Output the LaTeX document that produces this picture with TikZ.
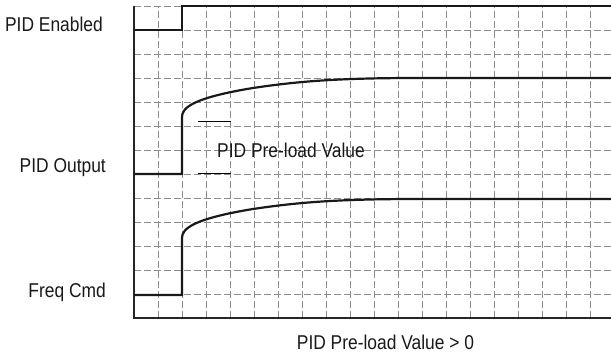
\documentclass[tikz,border=0pt]{standalone}
\usepackage{fontspec}
\setmainfont[FakeStretch=0.87]{Liberation Sans}
\usepackage{tikz}
\usetikzlibrary{positioning}

\begin{document}
\begin{tikzpicture}[
  x=1pt, y=1pt,
  every node/.style={font=\fontsize{20}{24}\selectfont, inner sep=0pt, text=black!90},
  gridline/.style={black!45, line width=0.9pt, dash pattern=on 7pt off 3pt},
  frame/.style={black!85, line width=1.3pt},
  trace/.style={black!90, line width=2.2pt, line join=miter},
  level/.style={black, line width=1pt},
  siglabel/.style={anchor=base east},
]
\useasboundingbox (0,0) rectangle (611,355);

% --- dashed grid
\foreach \x in {158,182,...,590}
  \draw[gridline] (\x,37) -- (\x,349);
\foreach \y in {61,85,...,349}
  \draw[gridline] (134,\y) -- (611,\y);

% --- frame (left and bottom)
\draw[frame] (134,349) -- (134,37) -- (611,37);

% --- PID Enabled step
\draw[trace] (134,325) -- (182,325) -- (182,349) -- (611,349);

% --- PID Output and Freq Cmd (same rise, shifted down)
\foreach \dy in {0,-121}
  \draw[trace, yshift=\dy] (134,181) -- (182,181) -- (182,238)
    .. controls (182,247) and (192,257) .. (253,267)
    .. controls (300,274) and (340,277) .. (420,277) -- (611,277);

% --- pre-load level marks
\draw[level] (198,233) -- (231,233);
\draw[level] (198,181) -- (231,181);

% --- labels
\node[siglabel] (enabled) at (103,323) {PID Enabled};
\node[siglabel] (output) at (106,182) {PID Output};
\node[siglabel] (freq) at (106,57) {Freq Cmd};
\node[anchor=base west] (preload) at (217,197) {PID Pre-load Value};
\node[anchor=base] (caption) at (385.5,5) {PID Pre-load Value > 0};

\end{tikzpicture}
\end{document}
